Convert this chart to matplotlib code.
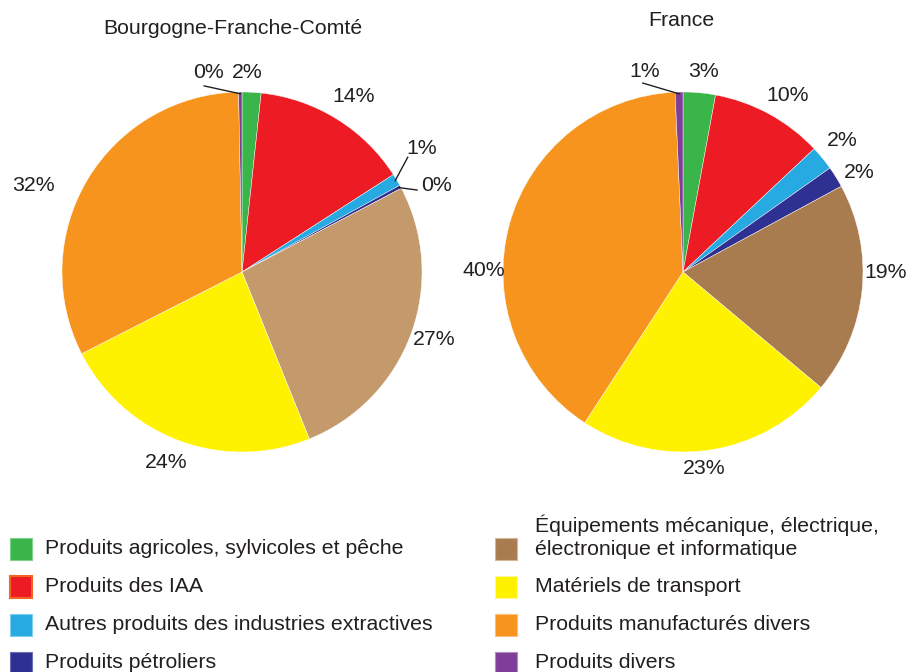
import numpy as np
import matplotlib
matplotlib.use("Agg")
import matplotlib.pyplot as plt
from matplotlib.patches import Rectangle

plt.rcParams['font.family'] = ['Liberation Sans', 'DejaVu Sans']

# ---------------- data ----------------
categories = [
    "Produits agricoles, sylvicoles et pêche",
    "Produits des IAA",
    "Autres produits des industries extractives",
    "Produits pétroliers",
    "Équipements mécanique, électrique,\nélectronique et informatique",
    "Matériels de transport",
    "Produits manufacturés divers",
    "Produits divers",
]
bfc_values = [1.7, 14.2, 1.1, 0.3, 26.6, 23.6, 32.2, 0.3]
france_values = [2.9, 10.1, 2.2, 1.9, 19.0, 23.1, 40.1, 0.7]
bfc_labels = ["2%", "14%", "1%", "0%", "27%", "24%", "32%", "0%"]
france_labels = ["3%", "10%", "2%", "2%", "19%", "23%", "40%", "1%"]
titles = ["Bourgogne-Franche-Comté", "France"]

colors_bfc = ["#39b54a", "#ed1c24", "#27aae1", "#2e3192", "#c49a6c",
              "#fff200", "#f7941d", "#7f3f98"]
colors_fr = ["#39b54a", "#ed1c24", "#27aae1", "#2e3192", "#a97c50",
             "#fff200", "#f7941d", "#7f3f98"]

# ---------------- layout ----------------
W, H = 910, 672
R = 180
centers = [(242, H - 272), (683, H - 272)]
title_pos = [(233, H - 28), (681, H - 21)]
# label placement (radius factor, angle clockwise from top in degrees)
label_polar = [
    [(1.11, 1.4), (1.155, 32.6), (1.21, 55.4), (1.18, 66.0), (1.13, 109.5),
     (1.14, 201.8), (1.255, 292.4), (1.126, -9.4)],
    [(1.122, 5.7), (1.143, 30.7), (1.148, 50.3), (1.122, 60.6), (1.128, 90.0),
     (1.10, 173.9), (1.105, 270.3), (1.136, -10.7)],
]
# leader lines: index -> outer end (radius factor, angle)
leaders = [
    {2: (1.12, 55.3), 3: (1.074, 64.9), 7: (1.055, -11.5)},
    {7: (1.073, -12.0)},
]

txt_color = "#231f20"
fs = 15.3

fig = plt.figure(figsize=(W / 100, H / 100), dpi=100)
ax = fig.add_axes([0, 0, 1, 1])
ax.axis('off')


def polar(c, rf, ang):
    a = np.deg2rad(ang)
    return c[0] + rf * R * np.sin(a), c[1] + rf * R * np.cos(a)


for k, (vals, labs, cols) in enumerate([(bfc_values, bfc_labels, colors_bfc),
                                        (france_values, france_labels, colors_fr)]):
    c = centers[k]
    wedges, _ = ax.pie(vals, colors=cols, startangle=90, counterclock=False,
                       radius=R, center=c, normalize=True, frame=False,
                       wedgeprops=dict(edgecolor='white', linewidth=0.3))
    total = sum(vals)
    cum = np.cumsum([0] + list(vals))
    for i, lab in enumerate(labs):
        rf, ang = label_polar[k][i]
        x, y = polar(c, rf, ang)
        ax.text(x, y, lab, ha='center', va='center', fontsize=fs, color=txt_color)
        if i in leaders[k]:
            mid = (cum[i] + cum[i + 1]) / 2 / total * 360
            x0, y0 = polar(c, 0.99, mid)
            x1, y1 = polar(c, *leaders[k][i])
            ax.plot([x0, x1], [y0, y1], color=txt_color, lw=1)
    ax.text(title_pos[k][0], title_pos[k][1], titles[k], ha='center', va='center',
            fontsize=fs, color=txt_color)

# ---------------- legend ----------------
col_x = [(10, 45), (495, 535)]
row_y = [H - 549, H - 587, H - 625, H - 663]
sq = 22
edge_cols = ["#7fd08a", "#f26522", "#7fcff0", "#6d6fb5", "#d4b89a",
             "#fff799", "#fbc07a", "#b48cc4"]
for i, cat in enumerate(categories):
    col = i // 4
    row = i % 4
    sx, tx = col_x[col]
    yy = row_y[row]
    ax.add_patch(Rectangle((sx, yy - sq / 2), sq, sq, facecolor=colors_fr[i],
                           edgecolor=edge_cols[i], linewidth=1.5 if i == 1 else 0.8))
    if "\n" in cat:
        ax.text(tx, yy + 12, cat, ha='left', va='center', fontsize=fs,
                color=txt_color, linespacing=1.25)
    else:
        ax.text(tx, yy, cat, ha='left', va='center', fontsize=fs, color=txt_color)

ax.set_xlim(0, W)
ax.set_ylim(0, H)
ax.set_aspect('equal')
ax.axis('off')

fig.savefig("out.png", dpi=100)
